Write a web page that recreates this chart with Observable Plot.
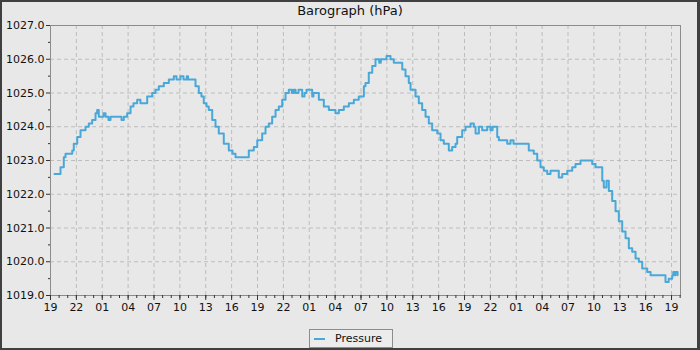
<!DOCTYPE html>
<html>
<head>
<meta charset="utf-8">
<script src="https://cdn.jsdelivr.net/npm/d3@7"></script>
<script src="https://cdn.jsdelivr.net/npm/@observablehq/plot@0.6"></script>
<style>
  html, body { margin: 0; padding: 0; background: #e8e8e8; }
  #wrap { position: relative; width: 700px; height: 350px; background: #e8e8e8; overflow: hidden; font-family: "DejaVu Sans", sans-serif; }
  #wrap svg { position: absolute; left: 0; top: 0; }
  #border { position: absolute; left: 0; top: 0; width: 700px; height: 350px; box-sizing: border-box; border: 2px solid #404040; border-right-width: 3px; pointer-events: none; }
  #title { position: absolute; left: 0; top: 3px; width: 700px; text-align: center; font-size: 13px; line-height: 16px; color: #111; }
  #legend { position: absolute; left: 309px; top: 329px; width: 84px; height: 19px; box-sizing: border-box; border: 1px solid #8c8c8c; background: #ececec; font-size: 11px; color: #111; }
  #legend .swatch { position: absolute; left: 4px; top: 8px; width: 11px; height: 2px; background: #4aa8d9; }
  #legend .lbl { position: absolute; left: 25px; top: 2px; line-height: 13px; }
</style>
</head>
<body>
<div id="wrap">
  <div id="title">Barograph (hPa)</div>
  <div id="legend"><span class="swatch"></span><span class="lbl">Pressure</span></div>
  <div id="border"></div>
</div>
<script>
// Hours elapsed since the first 19:00 mark, and pressure readings (hPa)
const hours = [
  0.46, 0.96, 1.16, 1.54, 1.74, 2.52, 2.70, 3.10, 3.48, 4.06, 4.44, 4.83, 5.22, 5.41, 5.60,
  6.14, 6.38, 6.72, 6.96, 8.12, 8.23, 8.50, 8.89, 9.28, 9.62, 10.05, 10.43, 10.82, 11.21, 11.79,
  12.17, 12.56, 13.14, 13.72, 14.30, 14.61, 15.07, 15.42, 15.80, 15.95, 16.23, 16.61, 16.81, 17.19, 17.50, 17.77,
  18.09, 18.35, 18.75, 19.13, 19.51, 19.71, 20.09, 20.67, 21.10, 21.45, 22.61, 22.99, 23.57, 23.97,
  24.35, 24.54, 24.93, 25.31, 25.70, 26.09, 26.47, 26.86, 27.25, 27.63, 28.00, 28.20, 28.41, 28.75, 29.18, 29.45,
  29.68, 30.34, 30.49, 30.72, 31.11, 31.69, 32.27, 32.66, 33.04, 33.43, 34.01, 34.59, 35.17, 35.74,
  35.94, 36.33, 36.52, 36.90, 37.30, 37.68, 38.10, 38.30, 38.64, 38.96, 39.42, 39.80, 40.58, 40.78, 41.16, 41.54,
  41.74, 42.32, 42.70, 43.09, 43.48, 43.86, 44.25, 44.84, 45.22, 45.60, 46.18, 46.57, 46.96, 47.15,
  47.73, 48.12, 48.70, 49.08, 49.28, 49.66, 50.05, 50.63, 51.01, 51.25, 51.59, 51.79, 51.98, 52.95,
  53.33, 53.68, 54.11, 55.07, 55.45, 56.03, 56.43, 56.81, 57.19, 57.59, 57.97, 58.75, 58.93, 59.33,
  59.91, 60.49, 60.87, 61.45, 62.23, 62.80, 63.19, 63.57, 63.97, 64.15, 64.46, 64.73, 65.12, 65.51,
  65.89, 66.28, 66.67, 67.05, 67.44, 67.83, 68.21, 68.60, 69.18, 69.57, 70.93, 71.30, 71.67, 72.08,
  72.20, 72.35, 72.46, 72.70
];
const pressure = [
  1022.6, 1022.6, 1022.8, 1023.1, 1023.2, 1023.3, 1023.5, 1023.7, 1023.9, 1024.0, 1024.1, 1024.2, 1024.4, 1024.5, 1024.3,
  1024.4, 1024.3, 1024.2, 1024.3, 1024.3, 1024.2, 1024.3, 1024.4, 1024.6, 1024.7, 1024.8, 1024.7, 1024.7, 1024.9, 1025.0,
  1025.1, 1025.2, 1025.3, 1025.4, 1025.5, 1025.4, 1025.5, 1025.4, 1025.5, 1025.4, 1025.4, 1025.4, 1025.2, 1025.0, 1024.9, 1024.7,
  1024.6, 1024.5, 1024.2, 1024.0, 1023.8, 1023.8, 1023.5, 1023.3, 1023.2, 1023.1, 1023.1, 1023.3, 1023.4, 1023.6,
  1023.6, 1023.8, 1024.0, 1024.1, 1024.3, 1024.5, 1024.6, 1024.8, 1025.0, 1025.1, 1025.0, 1025.1, 1025.0, 1025.1, 1024.9, 1025.0,
  1025.1, 1024.9, 1025.0, 1025.0, 1024.8, 1024.6, 1024.5, 1024.5, 1024.4, 1024.5, 1024.6, 1024.7, 1024.8, 1024.9,
  1024.9, 1025.2, 1025.3, 1025.6, 1025.8, 1026.0, 1025.9, 1026.0, 1026.0, 1026.1, 1026.0, 1025.9, 1025.9, 1025.7, 1025.5, 1025.3,
  1025.1, 1024.9, 1024.7, 1024.5, 1024.3, 1024.1, 1023.9, 1023.8, 1023.6, 1023.5, 1023.3, 1023.4, 1023.5, 1023.7,
  1023.9, 1024.0, 1024.1, 1024.0, 1023.8, 1024.0, 1023.9, 1024.0, 1023.9, 1024.0, 1024.0, 1023.7, 1023.6, 1023.5,
  1023.6, 1023.5, 1023.5, 1023.5, 1023.3, 1023.2, 1023.0, 1022.8, 1022.7, 1022.6, 1022.7, 1022.7, 1022.5, 1022.6,
  1022.7, 1022.8, 1022.9, 1023.0, 1023.0, 1022.9, 1022.8, 1022.8, 1022.4, 1022.2, 1022.4, 1022.1, 1021.8, 1021.5,
  1021.2, 1020.9, 1020.7, 1020.4, 1020.3, 1020.1, 1020.0, 1019.8, 1019.7, 1019.6, 1019.6, 1019.4, 1019.5, 1019.6,
  1019.7, 1019.6, 1019.7, 1019.6
];
const yTicks = [1019, 1020, 1021, 1022, 1023, 1024, 1025, 1026, 1027];
const yMinorTicks = [1019.5, 1020.5, 1021.5, 1022.5, 1023.5, 1024.5, 1025.5, 1026.5];
const majorTickHours = d3.range(0, 73, 3);
const minorTickHours = d3.range(0, 74, 1);
const xEndHours = 73.04;

const base = Date.UTC(2024, 0, 1, 19, 0, 0);
const toDate = h => new Date(base + h * 3600e3);
const data = hours.map((h, i) => ({time: toDate(h), p: pressure[i]}));
const majorTicks = majorTickHours.map(toDate);
const minorTicks = minorTickHours.map(toDate);

const chart = Plot.plot({
  width: 700,
  height: 350,
  marginLeft: 50,
  marginRight: 20,
  marginTop: 25,
  marginBottom: 55,
  style: {fontFamily: "DejaVu Sans", fontSize: "11px", background: "transparent", color: "#111"},
  x: {type: "utc", domain: [toDate(0), toDate(xEndHours)]},
  y: {domain: [1019, 1027]},
  marks: [
    Plot.gridX(majorTicks, {stroke: "#bdbdbd", strokeOpacity: 1, strokeDasharray: "4 3"}),
    Plot.gridY(yTicks, {stroke: "#bdbdbd", strokeOpacity: 1, strokeDasharray: "4 3"}),
    Plot.frame({stroke: "#8c8c8c"}),
    Plot.axisX(minorTicks, {tickSize: 3, tickFormat: () => "", stroke: "#333", label: null}),
    Plot.axisX(majorTicks, {tickSize: 5, tickPadding: 3, tickFormat: d3.utcFormat("%H"), stroke: "#333", label: null}),
    Plot.axisY(yMinorTicks, {tickSize: 2, tickFormat: () => "", stroke: "#333", label: null}),
    Plot.axisY(yTicks, {tickSize: 4, tickPadding: 2, tickFormat: d3.format(".1f"), stroke: "#333", label: null}),
    Plot.line(data, {x: "time", y: "p", curve: "step-after", stroke: "#4aa8d9", strokeWidth: 2})
  ]
});
document.getElementById("wrap").insertBefore(chart, document.getElementById("title"));
</script>
</body>
</html>
